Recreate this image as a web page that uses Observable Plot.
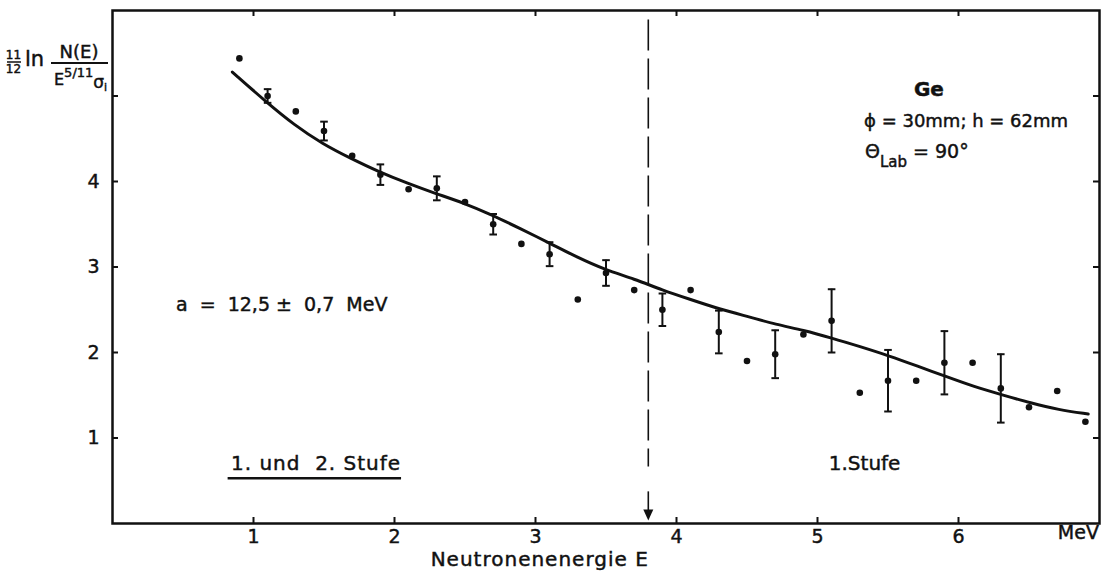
<!DOCTYPE html>
<html><head><meta charset="utf-8">
<script src="https://cdn.jsdelivr.net/npm/d3@7"></script>
<script src="https://cdn.jsdelivr.net/npm/@observablehq/plot@0.6"></script>
<style>
html,body{margin:0;padding:0;background:#fff;}
#chart svg{display:block;}
#chart svg text{stroke:#111;stroke-width:0.45px;}
</style></head><body><div id="chart"></div>
<script>
// measured points (neutron energy in MeV, 11/12 ln N(E)/(E^5/11 σi))
const energy    = [0.9, 1.1, 1.3, 1.5, 1.7, 1.9, 2.1, 2.3, 2.5, 2.7, 2.9, 3.1, 3.3, 3.5, 3.7, 3.9, 4.1, 4.3, 4.5, 4.7, 4.9, 5.1, 5.3, 5.5, 5.7, 5.9, 6.1, 6.3, 6.5, 6.7, 6.9];
const yieldVals = [5.44, 5.00, 4.82, 4.59, 4.30, 4.08, 3.91, 3.92, 3.76, 3.50, 3.27, 3.15, 2.62, 2.93, 2.73, 2.50, 2.73, 2.24, 1.90, 1.98, 2.21, 2.37, 1.53, 1.67, 1.67, 1.88, 1.88, 1.58, 1.36, 1.55, 1.19];
const errors    = [null, 0.08, null, 0.11, null, 0.12, null, 0.14, null, 0.12, null, 0.14, null, 0.15, null, 0.19, null, 0.25, null, 0.28, null, 0.37, null, 0.36, null, 0.37, null, 0.40, null, null, null];
// fitted curve
const fitEnergy = [0.85, 1.09, 1.29, 1.49, 1.69, 1.88, 2.09, 2.29, 2.49, 2.69, 2.89, 3.10, 3.30, 3.49, 3.70, 3.90, 4.10, 4.30, 4.53, 4.70, 4.90, 5.10, 5.30, 5.51, 5.71, 5.91, 6.11, 6.32, 6.51, 6.71, 6.92];
const fitVals   = [5.28, 4.93, 4.66, 4.44, 4.27, 4.12, 3.98, 3.86, 3.75, 3.61, 3.45, 3.28, 3.11, 2.97, 2.86, 2.73, 2.62, 2.51, 2.41, 2.33, 2.26, 2.17, 2.07, 1.96, 1.84, 1.72, 1.60, 1.50, 1.41, 1.33, 1.28];
// axes
const xTicks = [1, 2, 3, 4, 5, 6];
const yTicks = [1, 2, 3, 4, 5];
const yTickLabels = [1, 2, 3, 4];
const xDomain = [0, 7];
const yDomain = [0, 6];
// threshold line (1. Stufe / 1. und 2. Stufe boundary)
const thresholdE = 3.8;
const thresholdTop = 5.89, thresholdBottom = 0.66;
const arrowTop = 0.37, arrowShaftEnd = 0.14, arrowHead = 0.11;
// annotations
const fitText = "a  =  12,5 ±  0,7  MeV";
const fitTextPos = {x: 0.45, y: 2.56};
const sampleName = "Ge";
const samplePos = {x: 5.79, y: 5.08};
const sampleDims = "ϕ = 30mm; h = 62mm";
const sampleDimsPos = {x: 5.33, y: 4.71};
const anglePos = {x: 5.34, y: 4.35};
const regionLow = "1. und  2. Stufe";
const regionLowPos = {x: 0.84, y: 0.70};
const underline = {y: 0.53, x1: 0.82, x2: 2.05};
const regionHigh = "1.Stufe";
const regionHighPos = {x: 5.08, y: 0.70};
const unitLabel = "MeV";
const unitX = 6.85;
const xLabel = "Neutronenenergie E";
const xLabelX = 3.03;

const points = energy.map((e, i) => ({E: e, v: yieldVals[i], err: errors[i]}));
const errPts = points.filter(d => d.err != null);
const caps = errPts.flatMap(d => [{E: d.E, v: d.v - d.err}, {E: d.E, v: d.v + d.err}]);
const fit = fitEnergy.map((e, i) => ({E: e, v: fitVals[i]}));

const W = 1104, H = 581, mL = 112, mR = 5, mT = 10, mB = 58;
const innerW = W - mL - mR, innerH = H - mT - mB;
const INK = "#111";
const F = "'DejaVu Sans', 'Liberation Sans', sans-serif";

const capSymbol = {draw(ctx, size) { const r = Math.sqrt(size / Math.PI); ctx.moveTo(-r, 0); ctx.lineTo(r, 0); }};
const downTri = {draw(ctx, size) { const r = Math.sqrt(size / Math.PI); ctx.moveTo(-r, -r * 0.9); ctx.lineTo(r, -r * 0.9); ctx.lineTo(0, r * 1.3); ctx.closePath(); }};

const plot = Plot.plot({
  width: W, height: H,
  marginLeft: mL, marginRight: mR, marginTop: mT, marginBottom: mB,
  x: {domain: xDomain},
  y: {domain: yDomain},
  style: {fontFamily: F, fontSize: "19px", color: INK, background: "#fff"},
  marks: [
    Plot.frame({stroke: INK, strokeWidth: 2.5}),
    Plot.axisX({ticks: xTicks, tickFormat: "d", tickSize: 0, tickPadding: 6, fontSize: 19, label: null}),
    Plot.axisY({ticks: yTickLabels, tickFormat: "d", tickSize: 0, tickPadding: 13, fontSize: 19, label: null}),
    Plot.tickX(xTicks, {x: d => d, insetTop: innerH - 6, stroke: INK, strokeWidth: 2}),
    Plot.tickX(xTicks, {x: d => d, insetBottom: innerH - 6, stroke: INK, strokeWidth: 2}),
    Plot.tickY(yTicks, {y: d => d, insetRight: innerW - 6, stroke: INK, strokeWidth: 2}),
    Plot.tickY(yTicks, {y: d => d, insetLeft: innerW - 6, stroke: INK, strokeWidth: 2}),
    // threshold
    Plot.ruleX([thresholdE], {x: d => d, y1: thresholdTop, y2: thresholdBottom, stroke: INK, strokeWidth: 1.6, strokeDasharray: "31,8"}),
    Plot.ruleX([thresholdE], {x: d => d, y1: arrowTop, y2: arrowShaftEnd, stroke: INK, strokeWidth: 1.6}),
    Plot.dot([thresholdE], {x: d => d, y: arrowHead, symbol: downTri, r: 5, fill: INK, stroke: "none"}),
    // fit
    Plot.line(fit, {x: "E", y: "v", curve: "basis", stroke: INK, strokeWidth: 3}),
    // error bars
    Plot.ruleX(errPts, {x: "E", y1: d => d.v - d.err, y2: d => d.v + d.err, stroke: INK, strokeWidth: 2}),
    Plot.dot(caps, {x: "E", y: "v", symbol: capSymbol, r: 3.8, stroke: INK, strokeWidth: 2, fill: "none"}),
    // points
    Plot.dot(points, {x: "E", y: "v", r: 3.3, fill: INK, stroke: "none"}),
    // annotations
    Plot.text([fitTextPos], {x: "x", y: "y", text: () => fitText, textAnchor: "start", fontSize: 19, fill: INK}),
    Plot.text([samplePos], {x: "x", y: "y", text: () => sampleName, textAnchor: "middle", fontSize: 20, fontWeight: 600, fill: INK}),
    Plot.text([sampleDimsPos], {x: "x", y: "y", text: () => sampleDims, textAnchor: "start", fontSize: 18, fill: INK}),
    Plot.text([regionLowPos], {x: "x", y: "y", text: () => regionLow, textAnchor: "start", fontSize: 20, fill: INK}),
    Plot.ruleY([underline], {y: "y", x1: "x1", x2: "x2", stroke: INK, strokeWidth: 2.5}),
    Plot.text([regionHighPos], {x: "x", y: "y", text: () => regionHigh, textAnchor: "start", fontSize: 20, fill: INK}),
    Plot.text([unitX], {x: d => d, frameAnchor: "bottom", dy: 15, text: () => unitLabel, fontSize: 19, fill: INK}),
    Plot.text([xLabelX], {x: d => d, frameAnchor: "bottom", dy: 42, text: () => xLabel, fontSize: 20, fill: INK})
  ]
});
document.getElementById("chart").appendChild(plot);
d3.select(plot).selectAll("text").filter(function() { return this.textContent === xLabel; }).style("letter-spacing", "1px");
d3.select(plot).selectAll("text").filter(function() { return this.textContent === regionLow; }).style("letter-spacing", "1px");

// Rich-text labels (subscripts / fraction) placed through the plot's scales
const sx = plot.scale("x"), sy = plot.scale("y");
const X = sx.apply ? (v => sx.apply(v)) : d3.scaleLinear(sx.domain, sx.range);
const Y = sy.apply ? (v => sy.apply(v)) : d3.scaleLinear(sy.domain, sy.range);
const svg = d3.select(plot);

// Θ_Lab = 90°
const th = svg.append("text").attr("x", X(anglePos.x)).attr("y", Y(anglePos.y)).attr("dy", "0.35em")
  .attr("text-anchor", "start").attr("font-family", F).attr("font-size", 19).attr("fill", INK);
th.append("tspan").text("Θ");
th.append("tspan").attr("dy", 9).attr("font-size", 15).text("Lab");
th.append("tspan").attr("dy", -9).text(" = 90°");

// y-axis label: 11/12 ln N(E) / (E^{5/11} σ_i)
const g = svg.append("g").attr("font-family", F).attr("fill", INK).attr("text-anchor", "start");
g.append("text").attr("x", 13.5).attr("y", 59).attr("text-anchor", "middle").attr("font-size", 12).text("11");
g.append("line").attr("x1", 7).attr("x2", 21).attr("y1", 62).attr("y2", 62).attr("stroke", INK).attr("stroke-width", 1.5);
g.append("text").attr("x", 13.5).attr("y", 73).attr("text-anchor", "middle").attr("font-size", 12).text("12");
g.append("text").attr("x", 25).attr("y", 66).attr("font-size", 21).text("ln");
g.append("text").attr("x", 79).attr("y", 58).attr("text-anchor", "middle").attr("font-size", 18).text("N(E)");
g.append("line").attr("x1", 51).attr("x2", 108).attr("y1", 63).attr("y2", 63).attr("stroke", INK).attr("stroke-width", 2);
const den = g.append("text").attr("x", 54).attr("y", 85).attr("font-size", 16);
den.append("tspan").text("E");
den.append("tspan").attr("dy", -8).attr("font-size", 13).text("5/11");
den.append("tspan").attr("dy", 11).attr("font-size", 17).text("σ");
den.append("tspan").attr("dy", 3).attr("font-size", 11).text("i");
</script>
</body></html>
